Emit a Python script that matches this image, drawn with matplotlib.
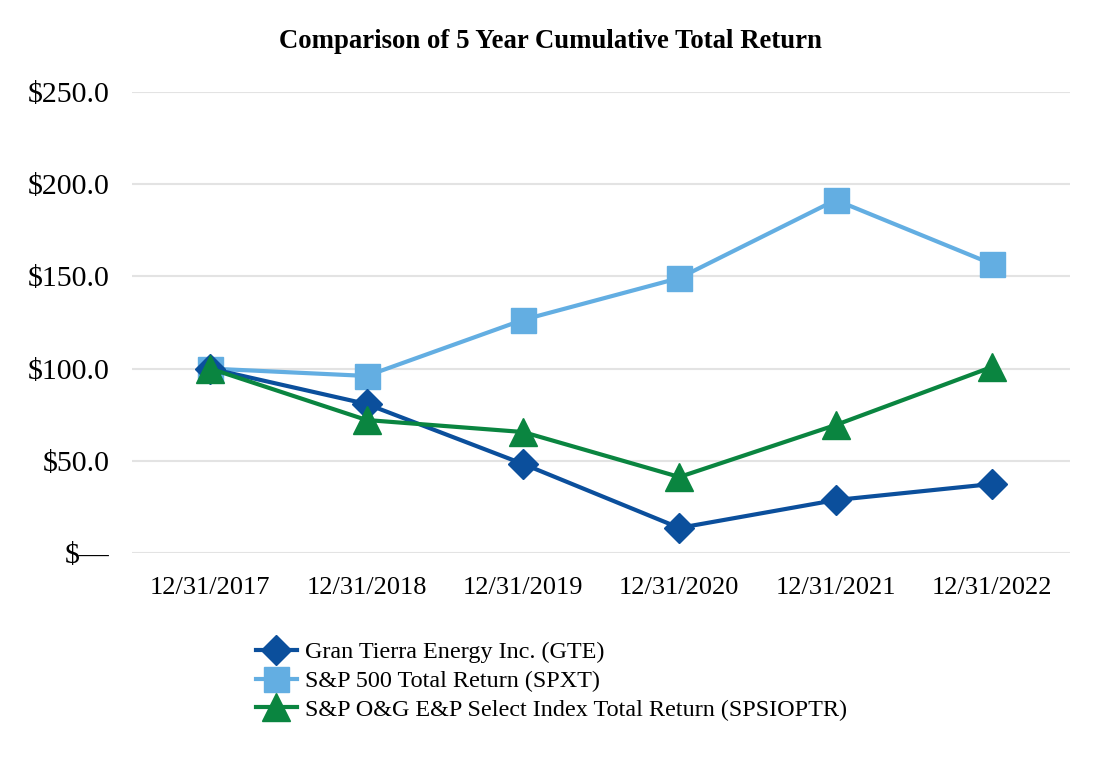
import matplotlib
matplotlib.use("Agg")
import matplotlib.pyplot as plt

plt.rcParams['font.family'] = ['Liberation Serif', 'DejaVu Serif']

years = ["12/31/2017", "12/31/2018", "12/31/2019", "12/31/2020", "12/31/2021", "12/31/2022"]
gte = [100.0, 80.8, 48.3, 13.6, 28.7, 37.4]
spxt = [100.0, 96.0, 126.4, 149.1, 191.4, 156.7]
spsioptr = [100.0, 72.1, 65.6, 41.2, 69.4, 100.9]
y_ticks = [0, 50, 100, 150, 200, 250]
y_labels = ["$\u2014", "$50.0", "$100.0", "$150.0", "$200.0", "$250.0"]

fig = plt.figure(figsize=(11, 7.6), dpi=100)
ax = fig.add_axes([0.12, 0.2724, 0.853, 0.6066])

x = range(len(years))
ax.plot(x, gte, color='#0B4F9C', lw=3, marker='D', ms=15, label='Gran Tierra Energy Inc. (GTE)', zorder=3)
ax.plot(x, spxt, color='#63AEE2', lw=3, marker='s', ms=18, label='S&P 500 Total Return (SPXT)', zorder=2)
ax.plot(x, spsioptr, color='#0A8540', lw=3, marker='^', ms=19.5, label='S&P O&G E&P Select Index Total Return (SPSIOPTR)', zorder=4)

ax.set_xlim(-0.5, 5.5)
ax.set_ylim(0, 250)
ax.set_xticks(list(x))
ax.set_xticklabels(years, fontsize=19)
ax.set_yticks(y_ticks)
ax.set_yticklabels(y_labels, fontsize=21.5)
ax.tick_params(length=0)
ax.tick_params(axis='x', pad=17)
ax.tick_params(axis='y', pad=16)
ax.grid(axis='y', color='#E3E3E3', lw=1.5)
ax.set_axisbelow(True)
for s in ax.spines.values():
    s.set_visible(False)

fig.suptitle('Comparison of 5 Year Cumulative Total Return', fontsize=19.3, fontweight='bold', y=0.962)

fig.legend(loc='upper left', bbox_to_anchor=(0.2216, 0.172), frameon=False, fontsize=17.4,
           handlelength=1.7, labelspacing=0.28, handletextpad=0.35, borderpad=0)

fig.savefig('out.png', dpi=100)
